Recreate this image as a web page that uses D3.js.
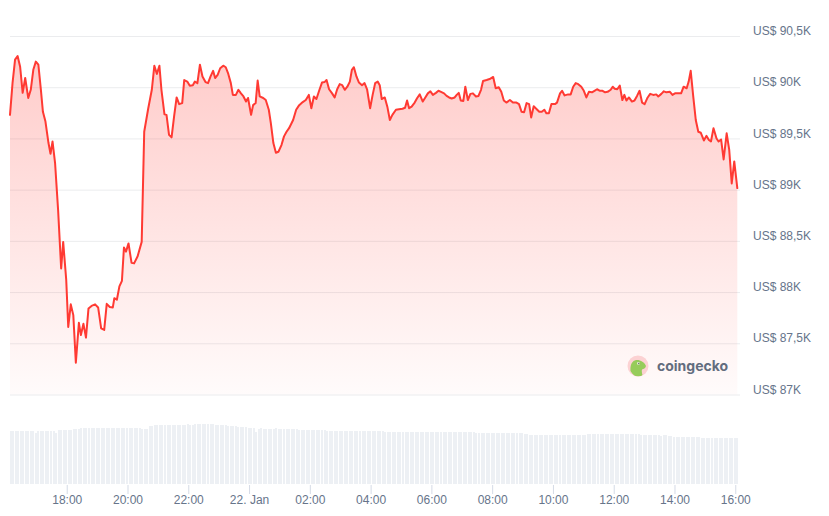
<!DOCTYPE html>
<html><head><meta charset="utf-8">
<script src="https://cdn.jsdelivr.net/npm/d3@7/dist/d3.min.js"></script>
<style>html,body{margin:0;padding:0;background:#fff;} svg{display:block;}</style>
</head><body><svg id="c" width="829" height="516"></svg>
<script>
// minutes after 2026-01-21 16:00 (UTC used for display)
const minutes = [8,13,18,23,28,33,38,44,49,54,
59,64,69,73,78,84,88,92,97,103,
109,113,119,123,128,133,138,144,148,153,
158,163,169,176,182,188,194,199,205,211,
214,219,224,229,233,237,242,248,253,260,
268,273,281,288,293,298,303,307,313,317,
322,327,332,337,342,348,352,358,363,369,
373,378,383,388,394,399,404,409,413,418,
423,429,434,439,444,448,454,459,464,469,
474,478,484,488,493,497,501,508,513,519,
523,528,533,538,544,549,554,559,567,573,
579,586,592,598,603,608,613,619,624,629,
633,638,644,649,654,659,664,669,674,679,
683,687,692,697,703,708,713,719,724,729,
734,738,742,748,753,758,763,770,776,783,
788,792,796,801,807,812,817,823,828,833,
838,843,849,854,859,865,870,875,880,886,
890,894,898,903,907,912,917,922,928,933,
938,942,949,955,962,967,973,978,983,988,
995,1001,1008,1013,1018,1023,1028,1033,1037,1042,
1048,1053,1058,1063,1067,1072,1077,1084,1088,1094,
1098,1103,1110,1115,1120,1125,1130,1136,1141,1146,
1151,1157,1162,1167,1173,1178,1183,1188,1194,1198,
1202,1207,1212,1217,1221,1225,1230,1236,1241,1246,
1251,1256,1261,1267,1272,1278,1284,1288,1294,1299,
1304,1311,1316,1321,1328,1333,1338,1344,1348,1352,
1357,1362,1367,1372,1378,1383,1388,1392,1397,1403,
1407,1412,1417,1423,1428,1433,1438,1444];

const prices = [89730,90040,90270,90305,90200,89945,90090,89895,89975,90170,
90250,90220,89975,89760,89665,89455,89350,89470,89260,88800,
88230,88490,88120,87660,87880,87775,87310,87700,87580,87690,
87555,87840,87865,87880,87850,87645,87630,87885,87855,87850,
87940,87925,88055,88110,88435,88395,88475,88285,88280,88350,
88490,89565,89795,89975,90210,90130,90210,89975,89735,89730,
89535,89510,89715,89900,89835,89845,90070,90055,90015,90020,
90055,90040,90220,90105,90050,90040,90105,90160,90090,90120,
90185,90210,90195,90130,90040,89925,89925,89975,89940,89910,
89860,89895,89730,89825,89845,90065,89910,89895,89875,89780,
89650,89455,89360,89370,89435,89520,89565,89600,89680,89780,
89825,89855,89875,89925,89795,89910,89885,89975,90045,90050,
90070,89980,89940,89900,89980,90030,90020,89975,90005,90055,
90170,90195,90105,90045,90020,90040,89980,89795,89925,90040,
90055,90020,89885,89900,89810,89680,89730,89780,89785,89790,
89800,89870,89795,89810,89850,89895,89930,89860,89900,89940,
89960,89925,89945,89965,89955,89940,89915,89900,89890,89900,
89925,89945,89870,89865,90005,89875,89935,89940,89910,89915,
89975,90060,90070,90080,90100,89990,90000,89955,89870,89850,
89875,89850,89850,89835,89760,89755,89845,89835,89705,89815,
89785,89760,89760,89780,89745,89745,89835,89835,89850,89940,
89965,89920,89930,89930,90005,90040,90030,90005,89965,89900,
89955,89950,89965,89980,89965,89965,89950,89955,89975,90005,
89985,89980,90015,89875,89925,89870,89900,89860,89870,89915,
89965,89850,89835,89900,89935,89925,89930,89910,89935,89960,
89950,89955,89925,89940,89940,89940,90005,89990,90055,90160,
89910,89680,89565,89555,89480,89525,89485,89470,89600,89500,
89470,89490,89295,89550,89390,89060,89275,89015];

// 5-minute volume bars (billions USD), starting at minute 8
const volumes = [39.8,39.5,39.8,39.6,39.8,39.8,39.6,39.8,39.8,39.7,
38.5,39.8,39.8,39.7,39.8,39.8,39.8,39.6,38.0,40.3,
40.5,40.5,40.6,40.5,40.8,41.0,41.2,41.5,42.0,41.9,
42.0,42.1,42.0,42.0,41.9,42.0,42.0,42.1,42.0,42.0,
41.9,42.0,42.0,42.0,42.1,42.0,42.0,41.9,42.0,42.0,
42.0,41.8,41.6,41.5,41.6,43.2,43.6,43.9,43.9,44.0,
43.9,44.1,44.0,43.9,44.2,44.5,44.4,44.6,44.5,44.5,
44.7,44.5,44.6,45.0,45.1,44.9,45.0,45.0,44.9,44.8,
44.7,44.5,44.2,44.0,43.9,43.9,43.8,43.7,43.6,43.3,
43.0,42.6,42.4,42.4,42.3,42.2,42.0,39.0,41.6,41.7,
41.6,41.6,41.5,41.6,41.6,41.7,41.6,41.5,41.6,41.6,
41.4,41.3,41.2,41.0,40.8,40.8,40.7,40.8,40.7,40.6,
40.7,40.7,40.6,40.5,40.3,40.1,40.0,39.9,39.8,39.8,
39.8,39.9,39.8,39.8,39.7,39.8,39.8,39.8,39.9,39.8,
39.8,39.7,39.8,39.8,39.8,39.7,39.6,39.4,39.2,39.0,
39.0,39.1,39.0,39.0,39.0,38.9,39.0,39.0,39.1,39.0,
39.0,39.0,38.9,39.0,39.0,39.0,39.1,39.0,39.0,39.0,
38.9,39.0,39.0,39.0,39.0,39.1,39.0,39.0,39.0,39.2,
39.2,39.3,39.2,38.8,38.5,38.3,38.3,38.4,38.3,38.3,
38.2,38.3,38.3,38.3,38.4,38.3,38.3,38.2,38.3,38.3,
38.3,38.2,38.0,37.6,37.2,37.0,37.0,37.1,37.0,37.0,
36.9,37.0,37.0,37.1,37.0,37.0,37.0,36.9,37.0,37.0,
37.1,37.0,37.0,37.0,36.9,37.0,37.0,37.0,37.2,37.4,
37.5,37.5,37.6,37.5,37.5,37.5,37.6,37.5,37.5,37.5,
37.4,37.5,37.5,37.5,37.6,37.5,37.5,37.4,37.3,37.0,
36.7,36.4,36.4,36.5,36.4,36.4,36.4,36.3,36.4,36.4,
36.2,35.9,35.6,35.5,35.5,35.6,35.5,35.5,35.5,35.4,
35.5,35.5,35.2,34.8,34.6,34.5,34.5,34.6,34.5,34.5,
34.4,34.5,34.5,34.5,34.6,34.5,34.5,34.4];

const yTicks = [87000,87500,88000,88500,89000,89500,90000,90500];
const yTickLabels = ["US$ 87K","US$ 87,5K","US$ 88K","US$ 88,5K","US$ 89K","US$ 89,5K","US$ 90K","US$ 90,5K"];
const xTickHours = [2,4,6,8,10,12,14,16,18,20,22,24];
const xTickLabels = ["18:00","20:00","22:00","22. Jan","02:00","04:00","06:00","08:00","10:00","12:00","14:00","16:00"];

const t0 = Date.UTC(2026,0,21,16,0);
const toDate = m => new Date(t0 + m*60000);
const data = minutes.map((m,i)=>({t:toDate(m), p:prices[i]}));
const vdata = volumes.map((v,i)=>({t:toDate(8+5*i), v}));

const svg = d3.select("#c");
const FONT = "'Liberation Sans', Arial, sans-serif";
const TXT = "#66748a";

const x = d3.scaleUtc().domain([toDate(minutes[0]), toDate(minutes[minutes.length-1])]).range([10, 737.3]);
const y = d3.scaleLinear().domain([87000, 90500]).range([394.5, 36]);
const yv = d3.scaleLinear().domain([0, 60]).range([484, 404]);

// gridlines
const grid = svg.append("g").attr("transform","translate(10,0)")
  .call(d3.axisRight(y).tickValues(yTicks).tickSize(730).tickFormat(""));
grid.select(".domain").remove();
grid.selectAll(".tick line").attr("stroke","#ebecee").attr("stroke-width",1);

// y labels
const yl = svg.append("g").attr("transform","translate(753,0)")
  .call(d3.axisRight(y).tickValues(yTicks).tickSize(0).tickPadding(0).tickFormat((d,i)=>yTickLabels[i]));
yl.select(".domain").remove();
yl.selectAll("text").attr("font-family",FONT).attr("font-size",12).attr("fill",TXT).attr("dy","-1.3px").attr("x",0);

// gradient
const defs = svg.append("defs");
const lg = defs.append("linearGradient").attr("id","ag").attr("x1",0).attr("y1",0).attr("x2",0).attr("y2",1);
lg.append("stop").attr("offset",0).attr("stop-color","#ff3a33").attr("stop-opacity",0.26);
lg.append("stop").attr("offset",1).attr("stop-color","#ff3a33").attr("stop-opacity",0.02);
defs.append("clipPath").attr("id","lc").append("circle").attr("cx",638).attr("cy",366).attr("r",10.5);

svg.append("path").datum(data)
  .attr("d", d3.area().x(d=>x(d.t)).y0(y(87000)).y1(d=>y(d.p)))
  .attr("fill","url(#ag)");

svg.append("path").datum(data)
  .attr("d", d3.line().x(d=>x(d.t)).y(d=>y(d.p)))
  .attr("fill","none").attr("stroke","#ff3a33").attr("stroke-width",2)
  .attr("stroke-linejoin","round").attr("stroke-linecap","round");

// volume bars
svg.append("g").attr("shape-rendering","crispEdges").selectAll("rect").data(vdata).join("rect")
  .attr("x", d=>Math.floor(x(d.t)))
  .attr("width", 2)
  .attr("y", d=>Math.round(yv(d.v)))
  .attr("height", d=>yv(0)-Math.round(yv(d.v)))
  .attr("fill","#edf0f4");

// x axis
const xa = svg.append("g").attr("transform","translate(0,485)")
  .call(d3.axisBottom(x).tickValues(xTickHours.map(h=>toDate(h*60))).tickSize(9).tickPadding(1.5)
    .tickFormat((d,i)=>xTickLabels[i]));
xa.select(".domain").remove();
xa.selectAll(".tick line").attr("stroke","#d5dbe6");
xa.selectAll("text").attr("font-family",FONT).attr("font-size",12).attr("fill",TXT);

// watermark logo
const logo = svg.append("g");
logo.append("circle").attr("cx",638).attr("cy",366).attr("r",10.5).attr("fill","#fcd2d3");
logo.append("path").attr("clip-path","url(#lc)")
  .attr("d","M630.5,371 C630,365 632,361 636,360 C640,359.5 644.5,362 646,366 C645.5,368.5 643.5,369 642,369.5 C641.5,371.5 642,373.5 642.5,375 C639,377.5 634,377.5 630.5,371 Z")
  .attr("fill","#96cc5a");
logo.append("rect").attr("x",637.3).attr("y",362.3).attr("width",2.2).attr("height",2.2).attr("fill","#fff");
logo.append("rect").attr("x",638.2).attr("y",362.8).attr("width",1.1).attr("height",1.3).attr("fill","#555");
logo.append("text").attr("x",657).attr("y",371).attr("font-family","Inter, 'Liberation Sans', sans-serif")
  .attr("font-weight",700).attr("font-size",14).attr("fill","#636d7e").text("coingecko");
</script>
</body></html>
